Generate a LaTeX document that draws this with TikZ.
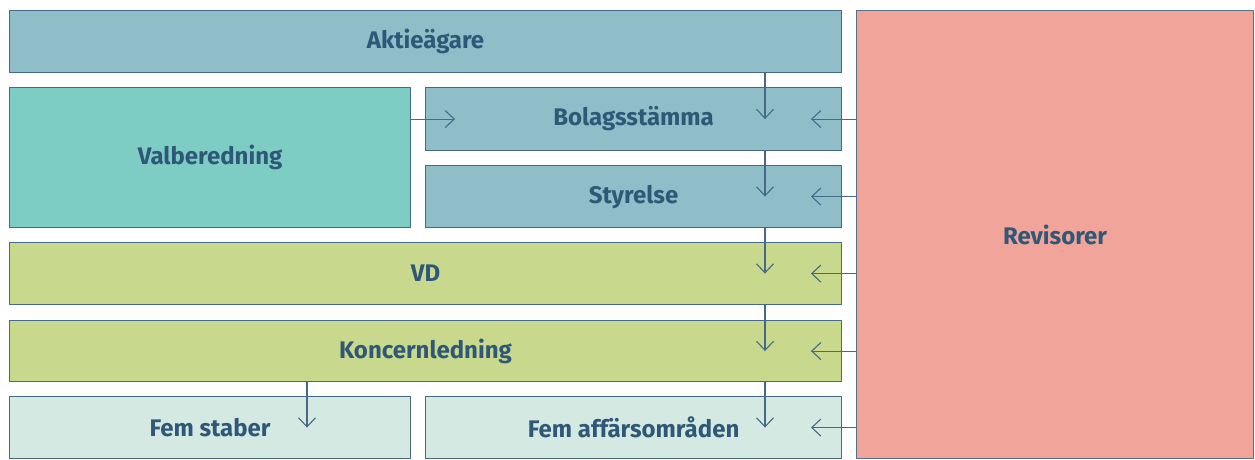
\documentclass[tikz,border=0pt]{standalone}
\usepackage{fontspec}
\setsansfont{Fira Sans}
\usetikzlibrary{arrows.meta}
\definecolor{edge}{HTML}{46698A}
\definecolor{txt}{HTML}{2F5878}
\definecolor{blue}{HTML}{8FBEC9}
\definecolor{teal}{HTML}{7ECDC5}
\definecolor{lime}{HTML}{C8D88C}
\definecolor{mint}{HTML}{D3E9E1}
\definecolor{rose}{HTML}{F0A49A}
\begin{document}
\begin{tikzpicture}[x=1pt,y=-1pt,line width=1.1pt,line join=round,line cap=round,
  >={Straight Barb[length=9pt,width=17pt,line width=1.1pt]},
  font=\sffamily\fontsize{24}{28}\selectfont\bfseries]
\tikzset{box/.style={draw=edge,text=txt,anchor=north west,inner sep=0pt}}
\useasboundingbox (0,0) rectangle (1255,459);
\node[box,fill=blue,minimum width=832pt,minimum height=62pt] (akt) at (9,10) {Aktieägare};
\node[box,fill=teal,minimum width=401pt,minimum height=140pt] (val) at (9,87) {Valberedning};
\node[box,fill=blue,minimum width=416pt,minimum height=63pt] (bol) at (425,87) {Bolagsstämma};
\node[box,fill=blue,minimum width=416pt,minimum height=62pt] (sty) at (425,165) {Styrelse};
\node[box,fill=lime,minimum width=832pt,minimum height=62pt] (vd) at (9,242) {VD};
\node[box,fill=lime,minimum width=832pt,minimum height=61pt] (kon) at (9,320) {Koncernledning};
\node[box,fill=mint,minimum width=401pt,minimum height=62pt] (sta) at (9,396) {Fem staber};
\node[box,fill=mint,minimum width=416pt,minimum height=62pt] (aff) at (425,396) {Fem affärsområden};
\node[box,draw=edge!70!gray,fill=rose,minimum width=397pt,minimum height=448pt] (rev) at (856,10) {Revisorer};
\coordinate (down) at (765,0);
\coordinate (left) at (811,0);
\coordinate (staff) at (307,0);
\coordinate (right) at (455,0);
\draw[edge,->] (akt.south-|down)--(bol-|down);
\draw[edge,->] (bol.south-|down)--(sty-|down);
\draw[edge,->] (sty.south-|down)--(vd-|down);
\draw[edge,->] (vd.south-|down)--(kon-|down);
\draw[edge,->] (kon.south-|down)--(aff-|down);
\draw[edge,->] (kon.south-|staff)--(sta-|staff);
\draw[edge,->] (val.east|-bol)--(right|-bol);
\foreach \n in {bol,sty,vd,kon,aff}
  \draw[edge,->] (rev.west|-\n)--(left|-\n);
\end{tikzpicture}
\end{document}
